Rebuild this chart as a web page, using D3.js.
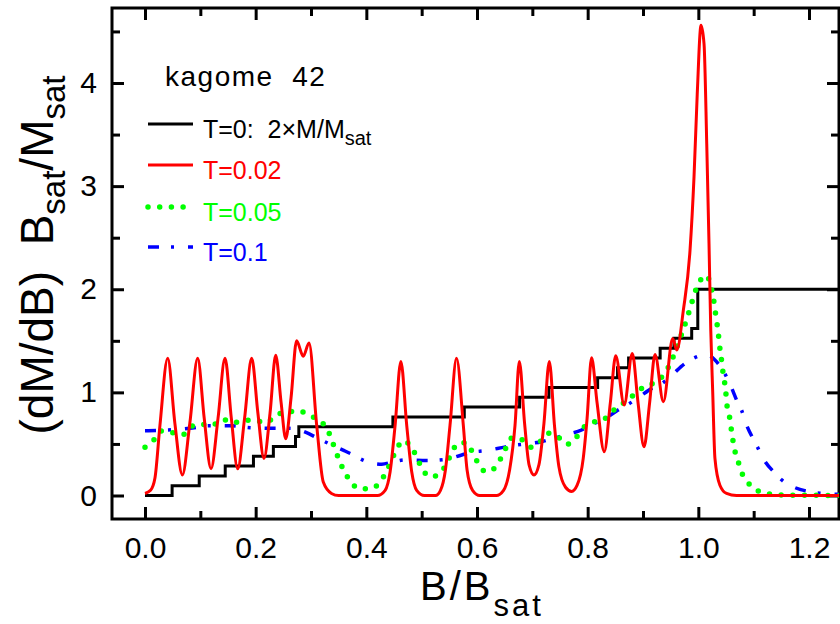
<!DOCTYPE html>
<html>
<head>
<meta charset="utf-8">
<script src="https://cdn.jsdelivr.net/npm/d3@7"></script>
<style>
  body { margin: 0; background: #fff; }
  text { font-family: "Liberation Sans", Arial, sans-serif; }
</style>
</head>
<body>
<div class="chart"></div>
<script>
// T=0 staircase : field where each plateau starts, and the 2*M/Msat level
var stepB     = [0, 0.049, 0.098, 0.145, 0.196, 0.232, 0.272, 0.278, 0.448, 0.577, 0.677, 0.730, 0.818, 0.854, 0.874, 0.931, 0.956, 0.988, 0.999, 1.26];
var stepLevel = [0, 0.095, 0.190, 0.286, 0.381, 0.476, 0.571, 0.667, 0.762, 0.857, 0.952, 1.048, 1.143, 1.238, 1.333, 1.429, 1.524, 1.619, 2.0, 2.0];

// T=0.02
var redB = [0, 0.01, 0.018, 0.027, 0.041, 0.054, 0.0675, 0.081, 0.0952, 0.107, 0.1193, 0.132, 0.1446, 0.156, 0.1675, 0.18, 0.1928, 0.204, 0.215, 0.226,
  0.2362, 0.246, 0.2543, 0.264, 0.274, 0.286, 0.2964, 0.3103, 0.3222, 0.337, 0.35, 0.42, 0.434, 0.443, 0.452, 0.4624, 0.473, 0.482, 0.491, 0.505,
  0.525, 0.534, 0.543, 0.5512, 0.563, 0.5753, 0.582, 0.592, 0.605, 0.635, 0.648, 0.659, 0.6687, 0.6765, 0.686, 0.694, 0.703, 0.712, 0.721, 0.7307,
  0.74, 0.748, 0.76, 0.771, 0.781, 0.792, 0.799, 0.807, 0.817, 0.830, 0.841, 0.8507, 0.866, 0.8807, 0.891, 0.9018, 0.912, 0.9217, 0.9368, 0.9537,
  0.961, 0.973, 0.985, 0.9922, 0.998, 1.0049, 1.0103, 1.0152, 1.0193, 1.0225, 1.026, 1.030, 1.039, 1.051, 1.069, 1.26];
var redY = [0.02, 0.05, 0.17, 0.68, 1.33, 0.70, 0.20, 0.70, 1.33, 0.75, 0.26, 0.75, 1.33, 0.75, 0.26, 0.75, 1.33, 0.80, 0.36, 0.80,
  1.36, 0.90, 0.55, 0.95, 1.50, 1.35, 1.48, 0.68, 0.13, 0.02, 0, 0, 0.05, 0.23, 0.68, 1.30, 0.68, 0.23, 0.05, 0,
  0, 0.05, 0.25, 0.68, 1.33, 0.68, 0.25, 0.05, 0, 0, 0.05, 0.25, 0.68, 1.30, 0.70, 0.30, 0.20, 0.30, 0.70, 1.30,
  0.68, 0.28, 0.08, 0.04, 0.10, 0.36, 0.75, 1.335, 0.90, 0.425, 0.90, 1.354, 0.877, 1.377, 0.90, 0.473, 0.90, 1.368, 0.909, 1.523,
  1.41, 1.80, 2.38, 3.09, 3.89, 4.56, 4.38, 3.41, 2.44, 1.60, 1.0, 0.36, 0.10, 0.02, 0, 0];

// T=0.05
var greenB = [0, 0.0163, 0.029, 0.048, 0.0675, 0.0825, 0.101, 0.1217, 0.1397, 0.1596, 0.1795, 0.2, 0.22, 0.236, 0.256, 0.277, 0.2953, 0.315, 0.3295, 0.3374,
  0.3446, 0.352, 0.3615, 0.372, 0.390, 0.41, 0.4265, 0.4367, 0.4458, 0.4548, 0.4668, 0.482, 0.492, 0.501, 0.516, 0.534, 0.545, 0.554, 0.565, 0.581,
  0.592, 0.602, 0.616, 0.634, 0.644, 0.6535, 0.6645, 0.6826, 0.6976, 0.714, 0.729, 0.746, 0.762, 0.778, 0.790, 0.807, 0.828, 0.842, 0.860, 0.8766,
  0.8916, 0.911, 0.9295, 0.943, 0.952, 0.96, 0.967, 0.974, 0.981, 0.987, 0.993, 1.001, 1.015, 1.0224, 1.027, 1.030, 1.033, 1.036, 1.038, 1.041,
  1.0434, 1.0464, 1.0495, 1.051, 1.0555, 1.0585, 1.0615, 1.065, 1.071, 1.077, 1.0875, 1.1025, 1.122, 1.15, 1.26];
var greenY = [0.467, 0.54, 0.625, 0.61, 0.587, 0.667, 0.69, 0.683, 0.738, 0.706, 0.732, 0.722, 0.71, 0.78, 0.806, 0.822, 0.78, 0.725, 0.642, 0.538,
  0.432, 0.328, 0.222, 0.129, 0.064, 0.07, 0.144, 0.238, 0.345, 0.448, 0.532, 0.464, 0.361, 0.258, 0.18, 0.216, 0.313, 0.41, 0.506, 0.512,
  0.415, 0.313, 0.231, 0.274, 0.37, 0.473, 0.564, 0.538, 0.467, 0.522, 0.603, 0.57, 0.496, 0.554, 0.645, 0.706, 0.732, 0.806, 0.877, 0.942,
  1.019, 1.07, 1.126, 1.216, 1.313, 1.42, 1.523, 1.63, 1.742, 1.848, 1.958, 2.061, 2.135, 2.03, 1.92, 1.806, 1.693, 1.58, 1.468, 1.354,
  1.242, 1.129, 1.016, 0.903, 0.793, 0.683, 0.57, 0.458, 0.348, 0.241, 0.141, 0.061, 0.022, 0.005, 0];

// T=0.1
var blueB = [0, 0.042, 0.081, 0.116, 0.155, 0.19, 0.229, 0.262, 0.292, 0.310, 0.331, 0.36, 0.3765, 0.3976, 0.4278, 0.4459, 0.47, 0.509, 0.5435, 0.5724,
  0.5905, 0.6158, 0.6447, 0.6627, 0.688, 0.717, 0.735, 0.759, 0.789, 0.807, 0.828, 0.855, 0.871, 0.8915, 0.9158, 0.9326, 0.952, 0.976, 0.991, 1.0134,
  1.038, 1.047, 1.0585, 1.0705, 1.078, 1.086, 1.0994, 1.1074, 1.1187, 1.1387, 1.1507, 1.173, 1.2006, 1.22, 1.26];
var blueY = [0.628, 0.635, 0.651, 0.677, 0.677, 0.657, 0.651, 0.651, 0.609, 0.561, 0.506, 0.435, 0.393, 0.335, 0.303, 0.322, 0.345, 0.34, 0.351, 0.393,
  0.419, 0.435, 0.464, 0.483, 0.5, 0.522, 0.548, 0.587, 0.635, 0.69, 0.732, 0.829, 0.877, 0.948, 1.039, 1.08, 1.167, 1.28, 1.33, 1.365,
  1.264, 1.19, 1.064, 0.909, 0.829, 0.70, 0.545, 0.464, 0.345, 0.216, 0.151, 0.08, 0.038, 0.022, 0.01];

var xMajor = [0, 0.2, 0.4, 0.6, 0.8, 1.0, 1.2];
var xMinor = [0.1, 0.3, 0.5, 0.7, 0.9, 1.1];
var yMajor = [0, 1, 2, 3, 4];
var yMinor = [0.5, 1.5, 2.5, 3.5, 4.5];

var legendNames = ["T=0: ", "T=0.02", "T=0.05", "T=0.1"];

function drawChart() {
  var W = 840, H = 624;
  var pLeft = 112, pRight = 839, pTop = 8, pBottom = 519;

  var x = d3.scaleLinear().domain([0, 1.2]).range([145, 809]);
  var y = d3.scaleLinear().domain([0, 4]).range([495.5, 83]);

  var svg = d3.select("div.chart").append("svg")
    .attr("width", W).attr("height", H);

  svg.append("clipPath").attr("id", "clip")
    .append("rect").attr("x", pLeft).attr("y", pTop)
    .attr("width", pRight - pLeft).attr("height", pBottom - pTop);

  // axes, ticks pointing inward
  function styleAxis(g) {
    g.select(".domain").remove();
    g.selectAll(".tick line").attr("stroke", "#000").attr("stroke-width", 3);
    g.attr("font-family", "Liberation Sans, Arial, sans-serif").attr("font-size", 30);
    g.selectAll(".tick text").attr("fill", "#000");
  }

  svg.append("g").attr("transform", "translate(0," + pBottom + ")")
    .call(d3.axisBottom(x).tickValues(xMajor).tickSize(-12).tickPadding(18).tickFormat(d3.format(".1f")))
    .call(styleAxis);
  svg.append("g").attr("transform", "translate(0," + pBottom + ")")
    .call(d3.axisBottom(x).tickValues(xMinor).tickSize(-8).tickFormat(""))
    .call(styleAxis);
  svg.append("g").attr("transform", "translate(0," + pTop + ")")
    .call(d3.axisTop(x).tickValues(xMajor).tickSize(-12).tickFormat(""))
    .call(styleAxis);
  svg.append("g").attr("transform", "translate(0," + pTop + ")")
    .call(d3.axisTop(x).tickValues(xMinor).tickSize(-8).tickFormat(""))
    .call(styleAxis);

  svg.append("g").attr("transform", "translate(" + pLeft + ",0)")
    .call(d3.axisLeft(y).tickValues(yMajor).tickSize(-12).tickPadding(15).tickFormat(d3.format("d")))
    .call(styleAxis);
  svg.append("g").attr("transform", "translate(" + pLeft + ",0)")
    .call(d3.axisLeft(y).tickValues(yMinor).tickSize(-8).tickFormat(""))
    .call(styleAxis);
  svg.append("g").attr("transform", "translate(" + pRight + ",0)")
    .call(d3.axisRight(y).tickValues(yMajor).tickSize(-12).tickFormat(""))
    .call(styleAxis);
  svg.append("g").attr("transform", "translate(" + pRight + ",0)")
    .call(d3.axisRight(y).tickValues(yMinor).tickSize(-8).tickFormat(""))
    .call(styleAxis);

  // frame
  svg.append("rect")
    .attr("x", pLeft).attr("y", pTop)
    .attr("width", pRight - pLeft).attr("height", pBottom - pTop)
    .attr("fill", "none").attr("stroke", "#000").attr("stroke-width", 3);

  // curves
  var plot = svg.append("g").attr("clip-path", "url(#clip)");

  var smooth = d3.line().x(function (d) { return x(d[0]); }).y(function (d) { return y(d[1]); }).curve(d3.curveMonotoneX);
  var steps = d3.line().x(function (d) { return x(d[0]); }).y(function (d) { return y(d[1]); }).curve(d3.curveStepAfter);

  plot.append("path").datum(d3.zip(stepB, stepLevel))
    .attr("d", steps).attr("fill", "none").attr("stroke", "#000").attr("stroke-width", 3);

  plot.append("path").datum(d3.zip(blueB, blueY))
    .attr("d", smooth).attr("fill", "none").attr("stroke", "#0000ff").attr("stroke-width", 3.5)
    .attr("stroke-dasharray", "11 12 3 14");

  plot.append("path").datum(d3.zip(greenB, greenY))
    .attr("d", smooth).attr("fill", "none").attr("stroke", "#00ff00").attr("stroke-width", 5.5)
    .attr("stroke-linecap", "round").attr("stroke-dasharray", "0 11.7");

  plot.append("path").datum(d3.zip(redB, redY))
    .attr("d", smooth).attr("fill", "none").attr("stroke", "#ff0000").attr("stroke-width", 3)
    .attr("stroke-linejoin", "round");

  // legend
  svg.append("text").attr("x", 165).attr("y", 86)
    .attr("font-size", 28).attr("letter-spacing", 1.5).style("white-space", "pre")
    .text("kagome  42");

  var legColors = ["#000", "#ff0000", "#00ff00", "#0000ff"];
  var legDash = [null, null, "0 11.7", "11 12 3 14"];
  var legWidth = [3, 3, 5.5, 3.5];
  var legCap = ["butt", "butt", "round", "butt"];
  var legLineY = [124, 165, 207, 247];

  legendNames.forEach(function (name, i) {
    svg.append("line")
      .attr("x1", 148).attr("x2", 193).attr("y1", legLineY[i]).attr("y2", legLineY[i])
      .attr("stroke", legColors[i]).attr("stroke-width", legWidth[i])
      .attr("stroke-linecap", legCap[i]).attr("stroke-dasharray", legDash[i]);
    var t = svg.append("text").attr("x", 203).attr("y", legLineY[i] + 14)
      .attr("font-size", 25).attr("fill", legColors[i]).style("white-space", "pre");
    t.append("tspan").text(name);
    if (i === 0) {
      t.append("tspan").text(" 2\u00d7M/M");
      t.append("tspan").attr("font-size", 20).attr("dy", 7).text("sat");
    }
  });

  // axis titles
  var xt = svg.append("text").attr("x", 420).attr("y", 600).attr("font-size", 40).attr("letter-spacing", 3);
  xt.append("tspan").text("B/B");
  xt.append("tspan").attr("font-size", 31).attr("dy", 16).text("sat");

  var yt = svg.append("text").attr("transform", "translate(53,255) rotate(-90)")
    .attr("text-anchor", "middle").attr("font-size", 46).style("white-space", "pre");
  yt.append("tspan").text("(dM/dB)  B");
  yt.append("tspan").attr("font-size", 33).attr("dy", 12).text("sat");
  yt.append("tspan").attr("dy", -12).text("/M");
  yt.append("tspan").attr("font-size", 33).attr("dy", 12).text("sat");
}

drawChart();
</script>
</body>
</html>
